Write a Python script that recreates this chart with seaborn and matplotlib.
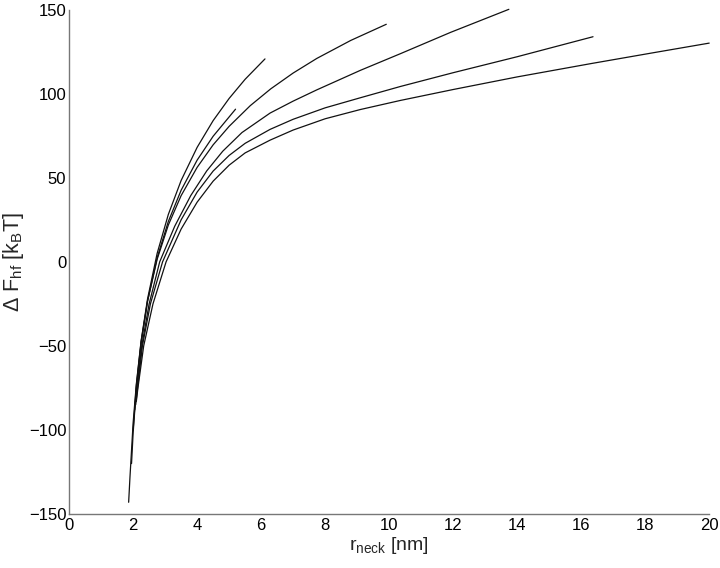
import matplotlib
matplotlib.use('Agg')
import matplotlib.pyplot as plt
import pandas as pd
import seaborn as sns

# curve values (r_neck in nm, dF in kBT)
a_r = [1.86, 1.90, 2.00, 2.10, 2.25, 2.45, 2.75, 3.10, 3.50, 4.00, 4.50, 5.00, 5.50, 6.12]
a_f = [-143, -128.5, -95.8, -72.7, -47.0, -22.1, 5.0, 28.2, 48.4, 68.1, 84.0, 97.2, 108.6, 120.7]

b_r = [1.95, 2.00, 2.10, 2.25, 2.45, 2.75, 3.10, 3.50, 4.00, 4.50, 5.20]
b_f = [-120, -101.8, -75.5, -48.5, -23.6, 2.4, 24.0, 42.6, 60.5, 74.7, 90.8]

c_r = [2.00, 2.10, 2.25, 2.45, 2.75, 3.10, 3.50, 4.00, 4.50, 5.00, 5.66, 6.30, 7.00, 7.74, 8.80, 9.91]
c_f = [-100.1, -73.7, -47.3, -23.3, 1.5, 21.9, 39.4, 56.2, 69.6, 80.6, 92.9, 102.9, 112.3, 121.0, 131.7, 141.3]

d_r = [2.05, 2.12, 2.27, 2.50, 2.83, 3.30, 3.80, 4.30, 4.80, 5.40, 6.28, 7.00, 7.74, 9.10, 10.35, 11.92, 13.74]
d_f = [-88, -75, -50, -25, 0, 21.2, 39.4, 54.1, 65.8, 76.9, 88.5, 95.6, 102.3, 113.9, 123.8, 136.5, 150.2]

e_r = [2.08, 2.14, 2.29, 2.54, 2.92, 3.50, 4.00, 4.50, 5.00, 5.50, 6.28, 7.00, 8.00, 9.10, 10.35, 12.0, 14.0, 16.37]
e_f = [-85, -75, -50, -25, 0, 25.0, 41.5, 54.0, 63.3, 70.5, 78.8, 84.8, 91.6, 97.6, 104.3, 112.5, 122.0, 133.9]

f_r = [2.10, 2.15, 2.33, 2.62, 3.03, 3.50, 4.00, 4.50, 5.00, 5.50, 6.28, 7.00, 8.00, 9.10, 10.35, 12.0, 14.0, 16.3, 18.2, 20.0]
f_f = [-83, -75, -50, -25, 0, 19.5, 35.5, 48.0, 57.5, 64.8, 72.4, 78.4, 85.1, 90.6, 96.0, 102.5, 110.0, 117.9, 124.2, 130.1]

curves = {'A': (a_r, a_f), 'B': (b_r, b_f), 'C': (c_r, c_f),
          'D': (d_r, d_f), 'E': (e_r, e_f), 'F': (f_r, f_f)}

x_ticks = [0, 2, 4, 6, 8, 10, 12, 14, 16, 18, 20]
y_ticks = [-150, -100, -50, 0, 50, 100, 150]

rows = []
for name, (rr, ff) in curves.items():
    for r, f in zip(rr, ff):
        rows.append({'curve': name, 'r': r, 'F': f})
df = pd.DataFrame(rows)

sns.set_style('white')
plt.rcParams['font.family'] = ['Liberation Sans', 'DejaVu Sans']
plt.rcParams['mathtext.default'] = 'regular'

fig = plt.figure(figsize=(7.2, 5.68), dpi=100)
ax = fig.add_axes([0.096, 0.095, 0.889, 0.888])

sns.lineplot(data=df, x='r', y='F', units='curve', estimator=None,
             color='#111111', linewidth=0.9, ax=ax, clip_on=False)

ax.set_xlim(0, 20)
ax.set_ylim(-150, 150)
ax.set_xticks(x_ticks)
ax.set_yticks(y_ticks)
ax.tick_params(direction='in', length=4.5, width=0.8, colors='#777777',
               labelcolor='black', labelsize=12)
ax.tick_params(axis='y', pad=2)
ax.tick_params(axis='x', pad=3)
for side in ['top', 'right']:
    ax.spines[side].set_visible(False)
for side in ['left', 'bottom']:
    ax.spines[side].set_color('#777777')
    ax.spines[side].set_linewidth(1.0)

ax.set_xlabel('r$_{neck}$ [nm]', fontsize=14, labelpad=1)
ax.set_ylabel('$\\Delta$ F$_{hf}$ [k$_B$T]', fontsize=15.5, labelpad=2)

plt.savefig('out.png', dpi=100)
